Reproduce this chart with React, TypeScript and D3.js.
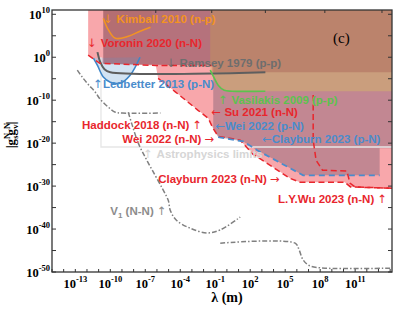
import React from "react";
import * as d3 from "d3";

type Pt = [number, number]; // [log10(λ / m), log10 |g_s g_v|]

const TOP = 11;
const RIGHT = 14.2;

// constraint curves
const voronin2020: Pt[] = [[-11.9, 0.5], [-10.9, -1.4], [-6.1, -1.9], [-1.3, -1.9]];
const clayburnNN2023: Pt[] = [
  [-5.9, -4.9], [-4.4, -8.1], [-2.5, -12.3], [-1.6, -14.2], [-1.2, -16.5], [-0.75, -18.4],
  [1.14, -19.3], [2.25, -22.6], [5.42, -28.2], [6.28, -29.1], [10.1, -29.1], [10.6, -30.2], [14.2, -30.5],
];
const wei2022PN: Pt[] = [[-10.6, -1.6], [-1.17, -1.9], [-1.17, -16.5]];
const clayburnPN2023: Pt[] = [[-0.75, -18.6], [1.4, -19.6], [2.6, -21.65], [6.54, -27.5], [13.1, -27.5]];
const clayburnPNEdge: Pt[] = [[13.1, -21.2], [14.2, -21.2]];
const wuNN2023: Pt[] = [
  [7.4, -8.8], [7.4, -19.3], [7.65, -24.0], [8.2, -26.3], [10.3, -26.5], [10.55, -29.3], [11.0, -30.2], [14.2, -30.5],
];
const vasilakis2009: Pt[] = [[-1.43, -3.0], [-1.17, -4.4], [-0.75, -6.5], [-0.23, -7.7], [0.45, -7.9], [3.3, -7.9]];
const ramsey1979: Pt[] = [[-11.1, 1.2], [-10.85, -1.2], [-10.5, -2.8], [-10.0, -3.5], [3.3, -3.5]];
const ledbetter2013: Pt[] = [[-11.45, -0.2], [-11.1, -1.9], [-10.6, -4.6], [-10.0, -5.8], [-9.15, -6.05], [-8.3, -4.2], [-7.45, 0]];
const kimball2010: Pt[] = [[-10.6, 9.1], [-10.15, 6.3], [-9.55, 4.4], [-8.45, 4.9], [-7.45, 6.05], [-6.55, 7.0]];
const v1Upper: Pt[] = [
  [-12.83, -3.0], [-12.4, -4.65], [-11.9, -6.3], [-11.3, -8.1], [-10.86, -9.8], [-10.26, -11.4],
  [-9.57, -12.8], [-8.97, -13.0], [-5.7, -13.0],
];
const v1Lower: Pt[] = [
  [-8.46, -12.8], [-8.12, -15.8], [-7.6, -20.0], [-7.0, -23.3], [-6.4, -26.3], [-5.55, -30.5], [-5.03, -33.3],
  [-4.86, -35.6], [-4.35, -37.9], [-3.15, -39.8], [-1.69, -40.9], [-0.57, -40.2], [1.14, -37.2],
];
const v1Far: Pt[] = [[-0.57, -43.3], [5.85, -43.3], [6.2, -44.9], [6.54, -47.2], [7.14, -48.6], [8.42, -49.1], [14.2, -49.1]];
const astroLimit: Pt[] = [[-10.8, 0], [-10.8, -20.9], [14.2, -20.9]];

const xMajor = [-13, -10, -7, -4, -1, 2, 5, 8, 11];
const xMinor = d3.range(-15, 15);
const xTop = [-6.1, -1.3, 3.3, 8.4, 13.3];
const yMajor = [10, 0, -10, -20, -30, -40, -50];
const yMinor = [5, -5, -15, -25, -35, -45];

const red = "#e8262d";
const blue = "#4a8ccc";
const green = "#5cc24e";
const orange = "#f39322";

// pre = arrow before the text, post = arrow after it
const labels = [
  { pre: "↓ ", t: "Kimball 2010 (n-p)", post: "", at: [-10.6, 7.92], c: orange, a: "start" },
  { pre: "↓ ", t: "Voronin 2020 (n-N)", post: "", at: [-11.97, 2.33], c: red, a: "start" },
  { pre: "↓ ", t: "Ramsey 1979 (p-p)", post: "", at: [-5.2, -2.33], c: "#6e6e6e", a: "start" },
  { pre: "↑", t: "Ledbetter 2013 (p-N)", post: "", at: [-11.46, -7.22], c: blue, a: "start" },
  { pre: "↑ ", t: "Vasilakis 2009 (p-p)", post: "", at: [-0.75, -10.94], c: green, a: "start" },
  { pre: "← ", t: "Su 2021 (n-N)", post: "", at: [-1.35, -13.74], c: red, a: "start" },
  { pre: "", t: "Haddock 2018 (n-N) ", post: "↑", at: [-2.12, -16.76], c: red, a: "end" },
  { pre: "", t: "Wei 2022 (n-N) ", post: "→", at: [-1.09, -20.0], c: red, a: "end" },
  { pre: "←", t: "Wei 2022 (p-N)", post: "", at: [-1.0, -17.0], c: blue, a: "start" },
  { pre: "←", t: "Clayburn 2023 (p-N)", post: "", at: [3.02, -20.0], c: blue, a: "start" },
  { pre: "↑ ", t: "Astrophysics limits", post: "", at: [-7.17, -23.5], c: "#d6d6d6", a: "start" },
  { pre: "", t: "Clayburn 2023 (n-N) ", post: "→", at: [-5.89, -29.3], c: red, a: "start" },
  { pre: "", t: "L.Y.Wu 2023 (n-N) ", post: "↑", at: [13.74, -34.0], c: red, a: "end" },
];

const W = 399;
const H = 310;
const x = d3.scaleLinear().domain([-15, 14.16]).range([52, 392]);
const y = d3.scaleLinear().domain([-50, 11]).range([272, 10]);
const line = d3.line<Pt>().x((d) => x(d[0])).y((d) => y(d[1]));
const smooth = d3.line<Pt>().x((d) => x(d[0])).y((d) => y(d[1])).curve(d3.curveCatmullRom.alpha(0.5));

const pinkRegion: Pt[] = [[-11.9, TOP], ...voronin2020.slice(0, 3), ...clayburnNN2023, [RIGHT, TOP]];
const mauveRegion: Pt[] = [[-10.6, TOP], ...wei2022PN, ...clayburnPN2023, ...clayburnPNEdge, [RIGHT, TOP]];
const tanRegion: Pt[] = [[-1.43, TOP], ...vasilakis2009, [RIGHT, -7.9], [RIGHT, TOP]];
const brownRegion: Pt[] = [[-10.6, TOP], [-10.6, -1.6], [-1.3, -1.9], [-1.3, -3.5], [RIGHT, -3.5], [RIGHT, TOP]];
const kimballRegion: Pt[] = [...kimball2010, [-6.55, TOP], [-10.6, TOP]];

const serif = "'Liberation Serif', 'Times New Roman', serif";
const sans = "'Liberation Sans', Arial, sans-serif";
const arrowFont = "'DejaVu Sans', sans-serif";

export default function App() {
  const [x0, x1] = x.range();
  const [y0, y1] = y.range();
  const dash = "5,2,1.5,2";
  return (
    <svg width={W} height={H} style={{ position: "absolute", left: 0, top: 0, background: "#fff" }}>
      <defs>
        <clipPath id="plot">
          <rect x={x0} y={y1} width={x1 - x0} height={y0 - y1} />
        </clipPath>
      </defs>
      <g clipPath="url(#plot)">
        <path d={line(pinkRegion) + "Z"} fill="#ef3b45" fillOpacity={0.45} />
        <path d={smooth(ledbetter2013) + "Z"} fill="#a6c8e8" fillOpacity={0.5} />
        <path d={line(mauveRegion) + "Z"} fill="#554660" fillOpacity={0.33} />
        <path d={line(tanRegion) + "Z"} fill="#d8c060" fillOpacity={0.4} />
        <path d={line(brownRegion) + "Z"} fill="#91323d" fillOpacity={0.25} />
        <path d={smooth(kimballRegion) + "Z"} fill="#b0501a" fillOpacity={0.1} />

        <path d={line(astroLimit)!} fill="none" stroke="#e6e6e6" strokeWidth={1.3} />

        <path d={smooth(v1Upper)!} fill="none" stroke="#808080" strokeWidth={1.5} strokeDasharray={dash} />
        <path d={smooth(v1Lower)!} fill="none" stroke="#808080" strokeWidth={1.5} strokeDasharray={dash} />
        <path d={smooth(v1Far)!} fill="none" stroke="#808080" strokeWidth={1.5} strokeDasharray={dash} />

        <path d={smooth(ledbetter2013)!} fill="none" stroke="#3f86c8" strokeWidth={1.6} />
        <path d={smooth(kimball2010)!} fill="none" stroke={orange} strokeWidth={1.6} />
        <path d={smooth(ramsey1979)!} fill="none" stroke="#5e5e5e" strokeWidth={2} />
        <path d={smooth(vasilakis2009)!} fill="none" stroke={green} strokeWidth={1.6} />

        <path d={line(voronin2020)!} fill="none" stroke={red} strokeWidth={1.5} strokeDasharray="6,3.5" />
        <path d={line(clayburnNN2023)!} fill="none" stroke={red} strokeWidth={1.5} strokeDasharray="6,3.5" />
        <path d={line(wuNN2023)!} fill="none" stroke={red} strokeWidth={1.5} strokeDasharray="6,3.5" />
        <path d={line(clayburnPN2023)!} fill="none" stroke={blue} strokeWidth={1.8} strokeDasharray="6,4" />
      </g>

      {labels.map((l) => (
        <text key={l.t} x={x(l.at[0])} y={y(l.at[1])} fill={l.c} textAnchor={l.a as any}
          fontFamily={sans} fontWeight="bold" fontSize={11.5}>
          {l.pre && <tspan fontFamily={arrowFont} fontWeight="normal">{l.pre}</tspan>}
          <tspan>{l.t}</tspan>
          {l.post && <tspan fontFamily={arrowFont} fontWeight="normal">{l.post}</tspan>}
        </text>
      ))}
      <text x={x(-10.0)} y={y(-36.8)} fill="#8c8c8c" fontFamily={sans} fontWeight="bold" fontSize={11.5}>
        V<tspan dy={3} fontSize={8}>1</tspan><tspan dy={-3}> (N-N) </tspan>
        <tspan fontFamily={arrowFont} fontWeight="normal">↑</tspan>
      </text>
      <text x={x(9.1)} y={y(3.26)} fontFamily={serif} fontSize={15}>(c)</text>

      {/* frame */}
      <rect x={x0} y={y1} width={x1 - x0} height={y0 - y1} fill="none" stroke="#333" strokeWidth={1.3} />

      {/* bottom and top ticks */}
      {xMinor.map((v) => (
        <line key={"xb" + v} x1={x(v)} x2={x(v)} y1={y0} y2={y0 - 3} stroke="#333" strokeWidth={1} />
      ))}
      {xTop.map((v) => (
        <line key={"xt" + v} x1={x(v)} x2={x(v)} y1={y1} y2={y1 + 3} stroke="#333" strokeWidth={1} />
      ))}
      {xMajor.map((v) => (
        <text key={"xl" + v} x={x(v)} y={288} textAnchor="middle" fontFamily={serif} fontWeight="bold" fontSize={12.5}>
          10<tspan dy={-6} fontSize={8.5}>{v}</tspan>
        </text>
      ))}

      {/* left / right ticks */}
      {[...yMajor, ...yMinor].map((v) => (
        <g key={"y" + v}>
          <line x1={x0} x2={x0 + 4} y1={y(v)} y2={y(v)} stroke="#333" strokeWidth={1} />
          <line x1={x1} x2={x1 - 4} y1={y(v)} y2={y(v)} stroke="#333" strokeWidth={1} />
        </g>
      ))}
      {yMajor.map((v) => (
        <text key={"yl" + v} x={50} y={y(v) + 4.5} textAnchor="end" fontFamily={serif} fontWeight="bold" fontSize={12.5}>
          10<tspan dy={-6} fontSize={8.5}>{v}</tspan>
        </text>
      ))}

      <text x={227} y={302} textAnchor="middle" fontFamily={serif} fontWeight="bold" fontSize={14}>λ (m)</text>
      <text transform="translate(15,135) rotate(-90)" textAnchor="middle" fontFamily={serif} fontWeight="bold" fontSize={13}>
        |g<tspan dy={-5} fontSize={8.5}>N</tspan><tspan dx={-6} dy={8} fontSize={8.5}>s</tspan>
        <tspan dy={-3}>g</tspan><tspan dy={-5} fontSize={8.5}>N</tspan><tspan dx={-6} dy={8} fontSize={8.5}>v</tspan>
        <tspan dy={-3}>|</tspan>
      </text>
    </svg>
  );
}
